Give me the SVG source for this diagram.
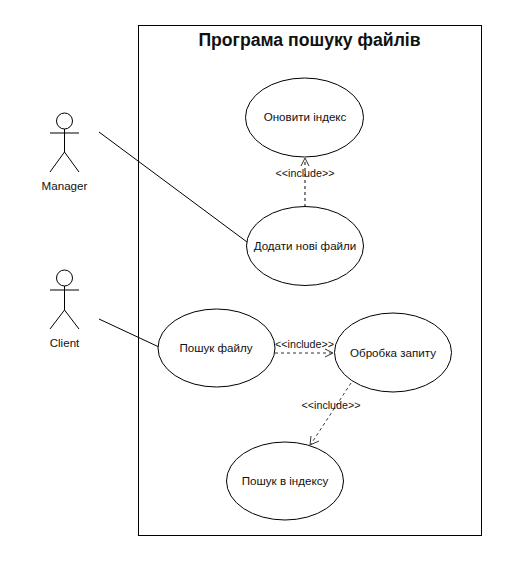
<svg xmlns="http://www.w3.org/2000/svg" width="531" height="569" viewBox="0 0 531 569">
<style>
text{font-family:"Liberation Sans",Arial,sans-serif;fill:#111;text-anchor:middle}
.l{font-size:11.600px}
.s{font-size:10.700px}
.n{fill:#fff;stroke:#000;stroke-width:1}
.a{fill:none;stroke:#000;stroke-width:1}
.d{fill:none;stroke:#333;stroke-width:1.2;stroke-dasharray:3 3}
.h{fill:none;stroke:#333;stroke-width:1}
</style>
<rect width="531" height="569" fill="#fff"/>
<g id="system"><rect x="138.500" y="25.500" width="343" height="510" fill="#fff" stroke="#000"/>
<text x="309.500" y="46" style="font-size:17.650px;font-weight:bold">Програма пошуку файлів</text></g>
<g id="connectors">
<line class="a" x1="99" y1="132" x2="247" y2="242"/>
<line class="a" x1="99" y1="319" x2="159" y2="347"/>
<line class="d" x1="305" y1="207" x2="305" y2="159"/>
<path class="h" d="M301 166L305 158L309 166"/>
<line class="d" x1="275" y1="353" x2="332" y2="353"/>
<path class="h" d="M325 349L333 353L325 357"/>
<line class="d" x1="351" y1="383" x2="311" y2="444" style="stroke-width:1"/>
<path class="h" d="M311 436L310 445L319 441"/>
<text class="s" x="305" y="177">&lt;&lt;include&gt;&gt;</text>
<text class="s" x="304.500" y="348">&lt;&lt;include&gt;&gt;</text>
<text class="s" x="331" y="409">&lt;&lt;include&gt;&gt;</text>
</g>
<g id="manager">
<circle class="n" cx="64.500" cy="121" r="8"/>
<path class="a" d="M64.500 129V152M50 133H79M50 172L64.500 152L79 172"/>
<text class="l" x="64.500" y="190">Manager</text></g>
<g id="client">
<circle class="n" cx="64.500" cy="278" r="8"/>
<path class="a" d="M64.500 286V310M50 290H79M50 329L64.500 310L79 329"/>
<text class="l" x="64.500" y="347">Client</text></g>
<g id="update"><ellipse class="n" cx="304.500" cy="117.500" rx="59" ry="39.500"/><text class="l" x="305" y="121">Оновити індекс</text></g>
<g id="add"><ellipse class="n" cx="305" cy="246" rx="58.500" ry="39.500"/><text class="l" x="305" y="250">Додати нові файли</text></g>
<g id="search"><ellipse class="n" cx="216.500" cy="348" rx="58.500" ry="39"/><text class="l" x="216" y="352">Пошук файлу</text></g>
<g id="process"><ellipse class="n" cx="393" cy="352.500" rx="58.500" ry="39.500"/><text class="l" x="393" y="357">Обробка запиту</text></g>
<g id="index"><ellipse class="n" cx="285" cy="481" rx="58.500" ry="39"/><text class="l" x="285" y="485">Пошук в індексу</text></g>
</svg>
